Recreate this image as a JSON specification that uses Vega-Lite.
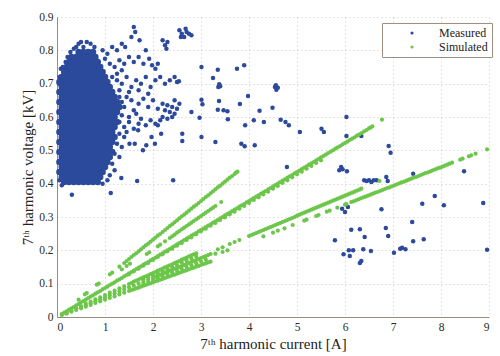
{
"$schema": "https://vega.github.io/schema/vega-lite/v6.json",
"width": 432, "height": 300,
"autosize": {"type": "none"},
"padding": {"left": 57, "top": 17, "right": 11, "bottom": 39},
"background": "white",
"config": {
  "view": {"stroke": null},
  "font": "Liberation Serif",
  "axis": {"domainColor": "#9a8a7c", "ticks": false, "labelPadding": 4, "gridColor": "#cfc6bd", "gridDash": [1, 3], "gridWidth": 1, "labelFont": "Liberation Serif", "labelFontSize": 11.5, "labelColor": "#2a2a2a", "titleFont": "Liberation Serif", "titleFontSize": 15, "titleFontWeight": "normal", "titleColor": "#222222"}
},
"datasets": {
"dense": [
{"x":0.15,"y":0.405},{"x":0.25,"y":0.405},{"x":0.35,"y":0.405},{"x":0.45,"y":0.405},{"x":0.55,"y":0.405},{"x":0.65,"y":0.405},{"x":0.75,"y":0.405},{"x":0.85,"y":0.405},
{"x":0.1,"y":0.42},{"x":0.2,"y":0.42},{"x":0.3,"y":0.42},{"x":0.4,"y":0.42},{"x":0.5,"y":0.42},{"x":0.6,"y":0.42},{"x":0.7,"y":0.42},{"x":0.8,"y":0.42},{"x":0.9,"y":0.42},
{"x":0.05,"y":0.435},{"x":0.15,"y":0.435},{"x":0.25,"y":0.435},{"x":0.35,"y":0.435},{"x":0.45,"y":0.435},{"x":0.55,"y":0.435},{"x":0.65,"y":0.435},{"x":0.75,"y":0.435},{"x":0.85,"y":0.435},{"x":0.95,"y":0.435},
{"x":0.1,"y":0.45},{"x":0.2,"y":0.45},{"x":0.3,"y":0.45},{"x":0.4,"y":0.45},{"x":0.5,"y":0.45},{"x":0.6,"y":0.45},{"x":0.7,"y":0.45},{"x":0.8,"y":0.45},{"x":0.9,"y":0.45},{"x":1.0,"y":0.45},
{"x":0.05,"y":0.465},{"x":0.15,"y":0.465},{"x":0.25,"y":0.465},{"x":0.35,"y":0.465},{"x":0.45,"y":0.465},{"x":0.55,"y":0.465},{"x":0.65,"y":0.465},{"x":0.75,"y":0.465},{"x":0.85,"y":0.465},{"x":0.95,"y":0.465},{"x":1.05,"y":0.465},
{"x":0.1,"y":0.48},{"x":0.2,"y":0.48},{"x":0.3,"y":0.48},{"x":0.4,"y":0.48},{"x":0.5,"y":0.48},{"x":0.6,"y":0.48},{"x":0.7,"y":0.48},{"x":0.8,"y":0.48},{"x":0.9,"y":0.48},{"x":1.0,"y":0.48},{"x":1.1,"y":0.48},
{"x":0.05,"y":0.495},{"x":0.15,"y":0.495},{"x":0.25,"y":0.495},{"x":0.35,"y":0.495},{"x":0.45,"y":0.495},{"x":0.55,"y":0.495},{"x":0.65,"y":0.495},{"x":0.75,"y":0.495},{"x":0.85,"y":0.495},{"x":0.95,"y":0.495},{"x":1.05,"y":0.495},{"x":1.15,"y":0.495},
{"x":0.1,"y":0.51},{"x":0.2,"y":0.51},{"x":0.3,"y":0.51},{"x":0.4,"y":0.51},{"x":0.5,"y":0.51},{"x":0.6,"y":0.51},{"x":0.7,"y":0.51},{"x":0.8,"y":0.51},{"x":0.9,"y":0.51},{"x":1.0,"y":0.51},{"x":1.1,"y":0.51},
{"x":0.05,"y":0.525},{"x":0.15,"y":0.525},{"x":0.25,"y":0.525},{"x":0.35,"y":0.525},{"x":0.45,"y":0.525},{"x":0.55,"y":0.525},{"x":0.65,"y":0.525},{"x":0.75,"y":0.525},{"x":0.85,"y":0.525},{"x":0.95,"y":0.525},{"x":1.05,"y":0.525},{"x":1.15,"y":0.525},
{"x":0.1,"y":0.54},{"x":0.2,"y":0.54},{"x":0.3,"y":0.54},{"x":0.4,"y":0.54},{"x":0.5,"y":0.54},{"x":0.6,"y":0.54},{"x":0.7,"y":0.54},{"x":0.8,"y":0.54},{"x":0.9,"y":0.54},{"x":1.0,"y":0.54},{"x":1.1,"y":0.54},{"x":1.2,"y":0.54},
{"x":0.05,"y":0.555},{"x":0.15,"y":0.555},{"x":0.25,"y":0.555},{"x":0.35,"y":0.555},{"x":0.45,"y":0.555},{"x":0.55,"y":0.555},{"x":0.65,"y":0.555},{"x":0.75,"y":0.555},{"x":0.85,"y":0.555},{"x":0.95,"y":0.555},{"x":1.05,"y":0.555},{"x":1.15,"y":0.555},
{"x":0.1,"y":0.57},{"x":0.2,"y":0.57},{"x":0.3,"y":0.57},{"x":0.4,"y":0.57},{"x":0.5,"y":0.57},{"x":0.6,"y":0.57},{"x":0.7,"y":0.57},{"x":0.8,"y":0.57},{"x":0.9,"y":0.57},{"x":1.0,"y":0.57},{"x":1.1,"y":0.57},{"x":1.2,"y":0.57},
{"x":0.05,"y":0.585},{"x":0.15,"y":0.585},{"x":0.25,"y":0.585},{"x":0.35,"y":0.585},{"x":0.45,"y":0.585},{"x":0.55,"y":0.585},{"x":0.65,"y":0.585},{"x":0.75,"y":0.585},{"x":0.85,"y":0.585},{"x":0.95,"y":0.585},{"x":1.05,"y":0.585},{"x":1.15,"y":0.585},{"x":1.25,"y":0.585},
{"x":0.1,"y":0.6},{"x":0.2,"y":0.6},{"x":0.3,"y":0.6},{"x":0.4,"y":0.6},{"x":0.5,"y":0.6},{"x":0.6,"y":0.6},{"x":0.7,"y":0.6},{"x":0.8,"y":0.6},{"x":0.9,"y":0.6},{"x":1.0,"y":0.6},{"x":1.1,"y":0.6},{"x":1.2,"y":0.6},
{"x":0.05,"y":0.615},{"x":0.15,"y":0.615},{"x":0.25,"y":0.615},{"x":0.35,"y":0.615},{"x":0.45,"y":0.615},{"x":0.55,"y":0.615},{"x":0.65,"y":0.615},{"x":0.75,"y":0.615},{"x":0.85,"y":0.615},{"x":0.95,"y":0.615},{"x":1.05,"y":0.615},{"x":1.15,"y":0.615},{"x":1.25,"y":0.615},
{"x":0.1,"y":0.63},{"x":0.2,"y":0.63},{"x":0.3,"y":0.63},{"x":0.4,"y":0.63},{"x":0.5,"y":0.63},{"x":0.6,"y":0.63},{"x":0.7,"y":0.63},{"x":0.8,"y":0.63},{"x":0.9,"y":0.63},{"x":1.0,"y":0.63},{"x":1.1,"y":0.63},{"x":1.2,"y":0.63},{"x":1.3,"y":0.63},
{"x":0.05,"y":0.645},{"x":0.15,"y":0.645},{"x":0.25,"y":0.645},{"x":0.35,"y":0.645},{"x":0.45,"y":0.645},{"x":0.55,"y":0.645},{"x":0.65,"y":0.645},{"x":0.75,"y":0.645},{"x":0.85,"y":0.645},{"x":0.95,"y":0.645},{"x":1.05,"y":0.645},{"x":1.15,"y":0.645},{"x":1.25,"y":0.645},
{"x":0.1,"y":0.66},{"x":0.2,"y":0.66},{"x":0.3,"y":0.66},{"x":0.4,"y":0.66},{"x":0.5,"y":0.66},{"x":0.6,"y":0.66},{"x":0.7,"y":0.66},{"x":0.8,"y":0.66},{"x":0.9,"y":0.66},{"x":1.0,"y":0.66},{"x":1.1,"y":0.66},{"x":1.2,"y":0.66},
{"x":0.05,"y":0.675},{"x":0.15,"y":0.675},{"x":0.25,"y":0.675},{"x":0.35,"y":0.675},{"x":0.45,"y":0.675},{"x":0.55,"y":0.675},{"x":0.65,"y":0.675},{"x":0.75,"y":0.675},{"x":0.85,"y":0.675},{"x":0.95,"y":0.675},{"x":1.05,"y":0.675},{"x":1.15,"y":0.675},
{"x":0.1,"y":0.69},{"x":0.2,"y":0.69},{"x":0.3,"y":0.69},{"x":0.4,"y":0.69},{"x":0.5,"y":0.69},{"x":0.6,"y":0.69},{"x":0.7,"y":0.69},{"x":0.8,"y":0.69},{"x":0.9,"y":0.69},{"x":1.0,"y":0.69},{"x":1.1,"y":0.69},
{"x":0.05,"y":0.705},{"x":0.15,"y":0.705},{"x":0.25,"y":0.705},{"x":0.35,"y":0.705},{"x":0.45,"y":0.705},{"x":0.55,"y":0.705},{"x":0.65,"y":0.705},{"x":0.75,"y":0.705},{"x":0.85,"y":0.705},{"x":0.95,"y":0.705},{"x":1.05,"y":0.705},
{"x":0.1,"y":0.72},{"x":0.2,"y":0.72},{"x":0.3,"y":0.72},{"x":0.4,"y":0.72},{"x":0.5,"y":0.72},{"x":0.6,"y":0.72},{"x":0.7,"y":0.72},{"x":0.8,"y":0.72},{"x":0.9,"y":0.72},{"x":1.0,"y":0.72},
{"x":0.15,"y":0.735},{"x":0.25,"y":0.735},{"x":0.35,"y":0.735},{"x":0.45,"y":0.735},{"x":0.55,"y":0.735},{"x":0.65,"y":0.735},{"x":0.75,"y":0.735},{"x":0.85,"y":0.735},{"x":0.95,"y":0.735},
{"x":0.2,"y":0.75},{"x":0.3,"y":0.75},{"x":0.4,"y":0.75},{"x":0.5,"y":0.75},{"x":0.6,"y":0.75},{"x":0.7,"y":0.75},{"x":0.8,"y":0.75},{"x":0.9,"y":0.75},
{"x":0.25,"y":0.765},{"x":0.35,"y":0.765},{"x":0.45,"y":0.765},{"x":0.55,"y":0.765},{"x":0.65,"y":0.765},{"x":0.75,"y":0.765},{"x":0.85,"y":0.765},
{"x":0.3,"y":0.78},{"x":0.4,"y":0.78},{"x":0.5,"y":0.78},{"x":0.6,"y":0.78},{"x":0.7,"y":0.78},{"x":0.8,"y":0.78},
{"x":0.45,"y":0.795},{"x":0.55,"y":0.795},{"x":0.65,"y":0.795},{"x":0.75,"y":0.795}
],
"meas": [
{"x":0.55,"y":0.81},{"x":0.62,"y":0.825},{"x":0.7,"y":0.82},{"x":0.78,"y":0.81},{"x":0.95,"y":0.8},{"x":1.05,"y":0.79},{"x":1.15,"y":0.81},{"x":1.25,"y":0.8},{"x":1.35,"y":0.82},{"x":1.42,"y":0.81},{"x":1.55,"y":0.84},{"x":1.6,"y":0.87},{"x":1.63,"y":0.855},{"x":1.72,"y":0.83},{"x":1.85,"y":0.8},{"x":2.2,"y":0.83},{"x":2.25,"y":0.815},{"x":2.3,"y":0.825},{"x":2.28,"y":0.805},
{"x":2.55,"y":0.86},{"x":2.6,"y":0.85},{"x":2.65,"y":0.84},{"x":2.7,"y":0.855},{"x":2.75,"y":0.85},{"x":2.8,"y":0.845},{"x":2.58,"y":0.84},{"x":2.68,"y":0.865},
{"x":1.0,"y":0.775},{"x":1.1,"y":0.76},{"x":1.2,"y":0.75},{"x":1.3,"y":0.77},{"x":1.4,"y":0.76},{"x":1.5,"y":0.78},{"x":1.6,"y":0.765},{"x":1.7,"y":0.78},{"x":1.8,"y":0.76},{"x":1.92,"y":0.775},{"x":1.98,"y":0.755},{"x":2.05,"y":0.745},{"x":2.1,"y":0.76},{"x":1.25,"y":0.73},{"x":1.35,"y":0.74},
{"x":1.15,"y":0.72},{"x":1.25,"y":0.71},{"x":1.35,"y":0.7},{"x":1.45,"y":0.72},{"x":1.55,"y":0.69},{"x":1.65,"y":0.71},{"x":1.75,"y":0.7},{"x":1.85,"y":0.72},{"x":1.95,"y":0.69},{"x":2.05,"y":0.71},{"x":2.15,"y":0.72},{"x":2.25,"y":0.7},{"x":2.35,"y":0.71},{"x":2.45,"y":0.72},{"x":2.5,"y":0.705},{"x":1.3,"y":0.68},{"x":1.5,"y":0.675},{"x":1.7,"y":0.68},{"x":1.9,"y":0.67},
{"x":1.3,"y":0.66},{"x":1.35,"y":0.645},{"x":1.4,"y":0.63},{"x":1.45,"y":0.66},{"x":1.55,"y":0.65},{"x":1.6,"y":0.62},{"x":1.7,"y":0.64},{"x":1.8,"y":0.655},{"x":1.9,"y":0.63},{"x":2.0,"y":0.65},{"x":2.1,"y":0.625},{"x":2.2,"y":0.64},{"x":2.25,"y":0.62},{"x":2.3,"y":0.635},{"x":2.35,"y":0.615},{"x":2.4,"y":0.63},{"x":2.45,"y":0.61},{"x":2.5,"y":0.625},{"x":2.2,"y":0.6},{"x":2.3,"y":0.595},{"x":2.4,"y":0.6},{"x":1.35,"y":0.605},{"x":1.5,"y":0.6},{"x":1.65,"y":0.61},{"x":1.75,"y":0.595},{"x":2.45,"y":0.65},{"x":2.55,"y":0.64},
{"x":1.3,"y":0.585},{"x":1.4,"y":0.57},{"x":1.5,"y":0.585},{"x":1.6,"y":0.565},{"x":1.7,"y":0.58},{"x":1.85,"y":0.575},{"x":1.95,"y":0.59},{"x":2.05,"y":0.58},{"x":2.1,"y":0.575},{"x":2.15,"y":0.59},{"x":1.3,"y":0.55},{"x":1.4,"y":0.54},{"x":1.45,"y":0.555},{"x":1.69,"y":0.56},{"x":1.97,"y":0.54},{"x":2.17,"y":0.55},{"x":1.25,"y":0.52},{"x":1.35,"y":0.51},{"x":1.51,"y":0.52},{"x":1.62,"y":0.52},{"x":1.79,"y":0.5},{"x":1.86,"y":0.515},{"x":2.04,"y":0.52},{"x":1.2,"y":0.49},{"x":1.3,"y":0.48},
{"x":1.15,"y":0.46},{"x":1.2,"y":0.44},{"x":1.1,"y":0.425},{"x":1.05,"y":0.41},{"x":0.95,"y":0.4},{"x":0.1,"y":0.395},{"x":0.05,"y":0.41},{"x":1.34,"y":0.417},{"x":1.67,"y":0.408},{"x":2.42,"y":0.41},{"x":0.31,"y":0.367},{"x":1.12,"y":0.372},
{"x":0.05,"y":0.72},{"x":0.04,"y":0.7},{"x":0.08,"y":0.745},{"x":0.12,"y":0.75},{"x":0.18,"y":0.765},{"x":0.22,"y":0.78},{"x":0.28,"y":0.795},{"x":0.35,"y":0.805},{"x":0.4,"y":0.81},{"x":0.45,"y":0.82},{"x":0.5,"y":0.825},
{"x":2.54,"y":0.707},{"x":3.01,"y":0.75},{"x":3.35,"y":0.742},{"x":3.75,"y":0.745},{"x":3.9,"y":0.755},{"x":3.25,"y":0.717},{"x":3.36,"y":0.69},{"x":3.38,"y":0.698},{"x":3.4,"y":0.692},{"x":3.98,"y":0.663},{"x":3.01,"y":0.652},{"x":3.03,"y":0.638},{"x":3.375,"y":0.648},{"x":3.81,"y":0.639},{"x":2.8,"y":0.615},{"x":3.35,"y":0.622},{"x":3.47,"y":0.62},{"x":3.55,"y":0.617},{"x":2.97,"y":0.598},{"x":3.56,"y":0.593},{"x":4.22,"y":0.619},{"x":4.49,"y":0.628},{"x":4.54,"y":0.69},{"x":4.57,"y":0.682},{"x":4.56,"y":0.695},{"x":4.6,"y":0.688},{"x":3.92,"y":0.575},{"x":4.1,"y":0.59},{"x":4.31,"y":0.585},{"x":4.66,"y":0.592},{"x":4.76,"y":0.585},{"x":4.83,"y":0.575},{"x":2.61,"y":0.55},{"x":2.61,"y":0.528},{"x":3.01,"y":0.54},{"x":3.3,"y":0.525},{"x":3.84,"y":0.52},{"x":3.91,"y":0.512},{"x":4.12,"y":0.515},{"x":5.06,"y":0.555},{"x":4.79,"y":0.45},{"x":5.51,"y":0.565},{"x":5.56,"y":0.555},{"x":6.03,"y":0.6},{"x":6.03,"y":0.543},{"x":6.34,"y":0.543},{"x":6.91,"y":0.513},{"x":6.95,"y":0.493},{"x":5.88,"y":0.44},{"x":5.92,"y":0.45},{"x":5.95,"y":0.443},{"x":6.04,"y":0.437},{"x":7.42,"y":0.43},{"x":8.48,"y":0.437},{"x":6.4,"y":0.41},{"x":6.45,"y":0.408},{"x":6.5,"y":0.41},{"x":6.55,"y":0.405},{"x":6.6,"y":0.41},{"x":6.66,"y":0.41},{"x":6.86,"y":0.42},{"x":6.89,"y":0.408},{"x":7.87,"y":0.363},{"x":7.61,"y":0.34},{"x":8.06,"y":0.335},{"x":8.88,"y":0.342},{"x":6.76,"y":0.323},{"x":5.94,"y":0.325},{"x":6.0,"y":0.315},{"x":6.06,"y":0.33},{"x":7.4,"y":0.285},{"x":6.13,"y":0.262},{"x":6.31,"y":0.263},{"x":6.85,"y":0.267},{"x":6.9,"y":0.243},{"x":6.41,"y":0.24},{"x":5.79,"y":0.23},{"x":7.42,"y":0.227},{"x":7.64,"y":0.233},{"x":6.08,"y":0.2},{"x":6.17,"y":0.2},{"x":6.38,"y":0.203},{"x":6.54,"y":0.198},{"x":7.15,"y":0.205},{"x":7.19,"y":0.208},{"x":7.26,"y":0.203},{"x":7.02,"y":0.193},{"x":5.97,"y":0.188},{"x":6.1,"y":0.183},{"x":6.34,"y":0.168},{"x":6.31,"y":0.162},{"x":8.96,"y":0.202}
],
"sim": [
{"x":0.1,"y":0.009},{"x":0.2,"y":0.017},{"x":0.3,"y":0.026},{"x":0.4,"y":0.035},{"x":0.5,"y":0.044},{"x":0.6,"y":0.052},{"x":0.7,"y":0.061},{"x":0.8,"y":0.07},{"x":0.9,"y":0.078},{"x":1.0,"y":0.087},{"x":1.1,"y":0.096},{"x":1.2,"y":0.104},{"x":1.3,"y":0.113},{"x":1.4,"y":0.122},{"x":1.5,"y":0.131},{"x":1.6,"y":0.139},{"x":1.7,"y":0.148},{"x":1.8,"y":0.157},{"x":1.9,"y":0.165},{"x":2.0,"y":0.174},{"x":2.1,"y":0.183},{"x":2.2,"y":0.191},{"x":2.3,"y":0.2},{"x":2.4,"y":0.209},{"x":2.5,"y":0.218},{"x":2.6,"y":0.226},{"x":2.7,"y":0.235},{"x":2.8,"y":0.244},{"x":2.9,"y":0.252},{"x":3.0,"y":0.261},{"x":3.1,"y":0.27},{"x":3.2,"y":0.278},{"x":3.3,"y":0.287},{"x":3.4,"y":0.296},{"x":3.5,"y":0.305},{"x":3.6,"y":0.313},{"x":3.7,"y":0.322},{"x":3.8,"y":0.331},{"x":3.9,"y":0.339},{"x":4.0,"y":0.348},{"x":4.1,"y":0.357},{"x":4.2,"y":0.365},{"x":4.3,"y":0.374},{"x":4.4,"y":0.383},{"x":4.5,"y":0.392},{"x":4.6,"y":0.4},{"x":4.7,"y":0.409},{"x":4.8,"y":0.418},{"x":4.9,"y":0.426},{"x":5.0,"y":0.435},{"x":5.1,"y":0.444},{"x":5.2,"y":0.452},{"x":5.3,"y":0.461},{"x":5.4,"y":0.47},{"x":5.5,"y":0.479},{"x":5.6,"y":0.487},{"x":5.7,"y":0.496},{"x":5.8,"y":0.505},{"x":5.9,"y":0.513},{"x":6.0,"y":0.522},{"x":6.1,"y":0.531},{"x":6.2,"y":0.539},{"x":6.3,"y":0.548},{"x":6.4,"y":0.557},{"x":6.5,"y":0.566},{"x":6.57,"y":0.572},{"x":6.77,"y":0.592},
{"x":0.15,"y":0.013},{"x":0.25,"y":0.022},{"x":0.35,"y":0.03},{"x":0.45,"y":0.039},{"x":0.55,"y":0.048},{"x":0.65,"y":0.057},{"x":0.75,"y":0.065},{"x":0.85,"y":0.074},{"x":0.95,"y":0.083},{"x":1.05,"y":0.091},{"x":1.15,"y":0.1},{"x":1.25,"y":0.109},{"x":1.35,"y":0.117},{"x":1.45,"y":0.126},{"x":1.55,"y":0.135},{"x":1.65,"y":0.144},{"x":1.75,"y":0.152},{"x":1.85,"y":0.161},{"x":1.95,"y":0.17},{"x":2.05,"y":0.178},{"x":2.15,"y":0.187},{"x":2.25,"y":0.196},{"x":2.35,"y":0.204},{"x":2.45,"y":0.213},{"x":2.55,"y":0.222},{"x":2.65,"y":0.231},{"x":2.75,"y":0.239},{"x":2.85,"y":0.248},{"x":2.95,"y":0.257},{"x":3.05,"y":0.265},{"x":3.15,"y":0.274},{"x":3.25,"y":0.283},{"x":3.35,"y":0.291},{"x":3.45,"y":0.3},{"x":3.55,"y":0.309},{"x":3.65,"y":0.318},{"x":3.75,"y":0.326},{"x":3.85,"y":0.335},{"x":3.95,"y":0.344},{"x":4.05,"y":0.352},{"x":4.15,"y":0.361},{"x":4.25,"y":0.37},{"x":4.35,"y":0.378},{"x":4.45,"y":0.387},{"x":4.55,"y":0.396},{"x":4.65,"y":0.405},{"x":4.75,"y":0.413},{"x":4.85,"y":0.422},{"x":4.95,"y":0.431},{"x":5.05,"y":0.439},{"x":5.15,"y":0.448},{"x":5.25,"y":0.457},{"x":5.35,"y":0.465},{"x":5.45,"y":0.474},{"x":5.55,"y":0.483},{"x":5.65,"y":0.492},{"x":5.75,"y":0.5},{"x":5.85,"y":0.509},{"x":5.95,"y":0.518},{"x":6.05,"y":0.526},{"x":6.15,"y":0.535},{"x":6.25,"y":0.544},{"x":6.35,"y":0.552},{"x":6.45,"y":0.561},{"x":6.53,"y":0.568},
{"x":1.5,"y":0.128},{"x":1.6,"y":0.137},{"x":1.7,"y":0.145},{"x":1.8,"y":0.154},{"x":1.9,"y":0.162},{"x":2.0,"y":0.171},{"x":2.1,"y":0.18},{"x":2.2,"y":0.188},{"x":2.3,"y":0.197},{"x":2.4,"y":0.205},{"x":2.5,"y":0.214},{"x":2.6,"y":0.222},{"x":2.7,"y":0.231},{"x":2.8,"y":0.239},{"x":2.9,"y":0.248},{"x":3.0,"y":0.257},{"x":3.1,"y":0.265},{"x":3.2,"y":0.274},{"x":3.3,"y":0.282},{"x":3.4,"y":0.291},{"x":3.5,"y":0.299},{"x":3.6,"y":0.308},{"x":3.7,"y":0.316},{"x":3.8,"y":0.325},{"x":3.9,"y":0.333},{"x":4.0,"y":0.342},{"x":4.1,"y":0.351},{"x":4.2,"y":0.359},{"x":4.3,"y":0.368},{"x":4.4,"y":0.376},{"x":4.5,"y":0.385},{"x":4.6,"y":0.393},{"x":4.7,"y":0.402},{"x":4.8,"y":0.41},{"x":4.9,"y":0.419},{"x":5.0,"y":0.428},{"x":5.1,"y":0.436},{"x":5.2,"y":0.445},{"x":5.3,"y":0.453},{"x":5.4,"y":0.462},{"x":5.5,"y":0.47},
{"x":0.45,"y":0.052},{"x":0.58,"y":0.068},{"x":0.62,"y":0.072},{"x":0.83,"y":0.097},{"x":0.87,"y":0.1},{"x":1.1,"y":0.128},{"x":1.15,"y":0.133},{"x":1.3,"y":0.151},{"x":1.4,"y":0.162},{"x":1.5,"y":0.174},{"x":1.6,"y":0.186},{"x":1.7,"y":0.197},{"x":1.8,"y":0.209},{"x":1.9,"y":0.22},{"x":2.0,"y":0.232},{"x":2.1,"y":0.244},{"x":2.2,"y":0.255},{"x":2.3,"y":0.267},{"x":2.4,"y":0.278},{"x":2.5,"y":0.29},{"x":2.6,"y":0.302},{"x":2.7,"y":0.313},{"x":2.8,"y":0.325},{"x":2.9,"y":0.336},{"x":3.0,"y":0.348},{"x":3.1,"y":0.36},{"x":3.2,"y":0.371},{"x":3.3,"y":0.383},{"x":3.4,"y":0.394},{"x":3.5,"y":0.406},{"x":3.6,"y":0.418},{"x":3.7,"y":0.429},{"x":3.76,"y":0.436},
{"x":1.45,"y":0.168},{"x":1.55,"y":0.18},{"x":1.65,"y":0.191},{"x":1.75,"y":0.203},{"x":1.85,"y":0.215},{"x":1.95,"y":0.226},{"x":2.05,"y":0.238},{"x":2.15,"y":0.249},{"x":2.25,"y":0.261},{"x":2.35,"y":0.273},{"x":2.45,"y":0.284},{"x":2.55,"y":0.296},{"x":2.65,"y":0.307},{"x":2.75,"y":0.319},{"x":2.85,"y":0.331},{"x":2.95,"y":0.342},{"x":3.05,"y":0.354},{"x":3.15,"y":0.365},{"x":3.25,"y":0.377},{"x":3.35,"y":0.389},{"x":3.45,"y":0.4},{"x":3.55,"y":0.412},{"x":3.65,"y":0.423},{"x":3.73,"y":0.433},
{"x":1.35,"y":0.143},{"x":1.45,"y":0.153},{"x":1.52,"y":0.16},{"x":1.87,"y":0.189},{"x":1.92,"y":0.194},{"x":2.1,"y":0.212},{"x":2.15,"y":0.217},{"x":2.25,"y":0.227},{"x":2.35,"y":0.237},{"x":2.45,"y":0.247},{"x":2.55,"y":0.258},{"x":2.65,"y":0.268},{"x":2.75,"y":0.278},{"x":2.85,"y":0.288},{"x":2.95,"y":0.298},{"x":3.05,"y":0.308},{"x":3.15,"y":0.318},{"x":3.25,"y":0.328},{"x":3.3,"y":0.333},{"x":3.42,"y":0.345},
{"x":2.4,"y":0.242},{"x":2.5,"y":0.253},{"x":2.6,"y":0.263},{"x":2.7,"y":0.273},{"x":2.8,"y":0.283},{"x":2.9,"y":0.293},{"x":3.0,"y":0.303},{"x":3.1,"y":0.313},{"x":3.2,"y":0.323},
{"x":0.1,"y":0.007},{"x":0.2,"y":0.013},{"x":0.3,"y":0.02},{"x":0.4,"y":0.026},{"x":0.5,"y":0.033},{"x":0.6,"y":0.04},{"x":0.7,"y":0.046},{"x":0.8,"y":0.053},{"x":0.9,"y":0.059},{"x":1.0,"y":0.066},{"x":1.1,"y":0.073},{"x":1.2,"y":0.079},{"x":1.3,"y":0.086},{"x":1.4,"y":0.092},{"x":1.5,"y":0.099},{"x":1.6,"y":0.106},{"x":1.7,"y":0.112},{"x":1.8,"y":0.119},{"x":1.9,"y":0.125},{"x":2.0,"y":0.132},{"x":2.1,"y":0.139},{"x":2.2,"y":0.145},{"x":2.3,"y":0.152},{"x":2.4,"y":0.158},{"x":2.5,"y":0.165},{"x":2.6,"y":0.172},{"x":2.7,"y":0.178},{"x":2.8,"y":0.185},{"x":2.9,"y":0.191},
{"x":1.55,"y":0.102},{"x":1.65,"y":0.109},{"x":1.75,"y":0.116},{"x":1.85,"y":0.122},{"x":1.95,"y":0.129},{"x":2.05,"y":0.135},{"x":2.15,"y":0.142},{"x":2.25,"y":0.149},{"x":2.35,"y":0.155},{"x":2.45,"y":0.162},{"x":2.55,"y":0.168},{"x":2.65,"y":0.175},{"x":2.75,"y":0.182},{"x":2.85,"y":0.188},
{"x":1.8,"y":0.113},{"x":1.9,"y":0.119},{"x":2.0,"y":0.125},{"x":2.1,"y":0.131},{"x":2.2,"y":0.138},{"x":2.3,"y":0.144},{"x":2.4,"y":0.15},{"x":2.5,"y":0.156},{"x":2.6,"y":0.163},{"x":2.7,"y":0.169},{"x":2.8,"y":0.175},{"x":2.9,"y":0.181},
{"x":0.1,"y":0.006},{"x":0.2,"y":0.012},{"x":0.3,"y":0.018},{"x":0.4,"y":0.024},{"x":0.5,"y":0.03},{"x":0.6,"y":0.035},{"x":0.7,"y":0.041},{"x":0.8,"y":0.047},{"x":0.9,"y":0.053},{"x":1.0,"y":0.059},{"x":1.1,"y":0.065},{"x":1.2,"y":0.071},{"x":1.3,"y":0.077},{"x":1.4,"y":0.083},{"x":1.5,"y":0.089},{"x":1.6,"y":0.094},{"x":1.7,"y":0.1},{"x":1.8,"y":0.106},{"x":1.9,"y":0.112},{"x":2.0,"y":0.118},{"x":2.1,"y":0.124},{"x":2.2,"y":0.13},{"x":2.3,"y":0.136},{"x":2.4,"y":0.142},{"x":2.5,"y":0.148},{"x":2.6,"y":0.153},{"x":2.7,"y":0.159},{"x":2.8,"y":0.165},{"x":2.9,"y":0.171},{"x":3.0,"y":0.177},{"x":3.1,"y":0.183},{"x":3.2,"y":0.189},
{"x":2.05,"y":0.121},{"x":2.15,"y":0.127},{"x":2.25,"y":0.133},{"x":2.35,"y":0.139},{"x":2.45,"y":0.145},{"x":2.55,"y":0.15},{"x":2.65,"y":0.156},{"x":2.75,"y":0.162},{"x":2.85,"y":0.168},{"x":2.95,"y":0.174},{"x":3.05,"y":0.18},{"x":3.15,"y":0.186},
{"x":1.8,"y":0.1},{"x":1.9,"y":0.105},{"x":2.0,"y":0.111},{"x":2.1,"y":0.117},{"x":2.2,"y":0.122},{"x":2.3,"y":0.128},{"x":2.4,"y":0.133},{"x":2.5,"y":0.139},{"x":2.6,"y":0.144},{"x":2.7,"y":0.15},{"x":2.8,"y":0.155},{"x":2.9,"y":0.161},{"x":3.0,"y":0.167},{"x":3.1,"y":0.172},
{"x":0.2,"y":0.01},{"x":0.3,"y":0.016},{"x":0.4,"y":0.021},{"x":0.5,"y":0.026},{"x":0.6,"y":0.031},{"x":0.7,"y":0.036},{"x":0.8,"y":0.042},{"x":0.9,"y":0.047},{"x":1.0,"y":0.052},{"x":1.1,"y":0.057},{"x":1.2,"y":0.062},{"x":1.3,"y":0.068},{"x":1.4,"y":0.073},{"x":1.5,"y":0.078},{"x":1.6,"y":0.083},{"x":1.7,"y":0.088},{"x":1.8,"y":0.094},{"x":1.9,"y":0.099},{"x":2.0,"y":0.104},{"x":2.1,"y":0.109},{"x":2.2,"y":0.114},{"x":2.3,"y":0.12},{"x":2.4,"y":0.125},{"x":2.5,"y":0.13},{"x":2.6,"y":0.135},{"x":2.7,"y":0.14},{"x":2.8,"y":0.146},{"x":2.9,"y":0.151},{"x":3.0,"y":0.156},{"x":3.1,"y":0.161},{"x":3.2,"y":0.166},
{"x":1.55,"y":0.081},{"x":1.65,"y":0.086},{"x":1.75,"y":0.091},{"x":1.85,"y":0.096},{"x":1.95,"y":0.101},{"x":2.05,"y":0.107},{"x":2.15,"y":0.112},{"x":2.25,"y":0.117},{"x":2.35,"y":0.122},{"x":2.45,"y":0.127},{"x":2.55,"y":0.133},{"x":2.65,"y":0.138},{"x":2.75,"y":0.143},{"x":2.85,"y":0.148},{"x":2.95,"y":0.153},{"x":3.05,"y":0.159},{"x":3.15,"y":0.164},
{"x":3.35,"y":0.203},{"x":3.45,"y":0.209},{"x":3.6,"y":0.219},{"x":3.7,"y":0.225},{"x":3.8,"y":0.231},{"x":4.0,"y":0.243},{"x":4.1,"y":0.249},{"x":4.2,"y":0.255},{"x":4.3,"y":0.261},{"x":4.4,"y":0.267},{"x":4.5,"y":0.273},{"x":4.6,"y":0.279},{"x":4.7,"y":0.285},{"x":4.8,"y":0.291},{"x":4.9,"y":0.297},{"x":5.0,"y":0.304},{"x":5.1,"y":0.31},{"x":5.2,"y":0.316},{"x":5.3,"y":0.322},{"x":5.4,"y":0.328},{"x":5.5,"y":0.334},{"x":5.6,"y":0.34},{"x":5.7,"y":0.346},{"x":5.8,"y":0.352},{"x":5.9,"y":0.358},{"x":6.0,"y":0.364},{"x":6.1,"y":0.37},{"x":6.2,"y":0.376},{"x":6.3,"y":0.382},{"x":6.34,"y":0.385},{"x":6.72,"y":0.408},
{"x":4.05,"y":0.246},{"x":4.15,"y":0.252},{"x":4.25,"y":0.258},{"x":4.35,"y":0.264},{"x":4.45,"y":0.27},{"x":4.55,"y":0.276},{"x":4.65,"y":0.282},{"x":4.75,"y":0.288},{"x":4.85,"y":0.294},{"x":4.95,"y":0.3},{"x":5.05,"y":0.307},{"x":5.15,"y":0.313},{"x":5.25,"y":0.319},{"x":5.35,"y":0.325},{"x":5.45,"y":0.331},{"x":5.55,"y":0.337},{"x":5.65,"y":0.343},{"x":5.75,"y":0.349},{"x":5.85,"y":0.355},{"x":5.95,"y":0.361},{"x":6.05,"y":0.367},{"x":6.15,"y":0.373},{"x":6.25,"y":0.379},
{"x":3.3,"y":0.19},{"x":3.45,"y":0.195},{"x":3.55,"y":0.2},{"x":4.3,"y":0.242},{"x":4.5,"y":0.253},{"x":4.6,"y":0.259},{"x":4.74,"y":0.266},{"x":4.91,"y":0.276},{"x":5.15,"y":0.289},{"x":5.2,"y":0.292},{"x":5.4,"y":0.303},{"x":5.45,"y":0.306},{"x":5.62,"y":0.316},{"x":5.68,"y":0.319},{"x":5.84,"y":0.328},{"x":6.0,"y":0.337},{"x":6.03,"y":0.339},{"x":6.13,"y":0.345},{"x":6.23,"y":0.35},{"x":6.33,"y":0.356},{"x":6.43,"y":0.361},{"x":6.53,"y":0.367},{"x":6.63,"y":0.373},{"x":6.73,"y":0.378},{"x":6.83,"y":0.384},{"x":6.93,"y":0.389},{"x":7.03,"y":0.395},{"x":7.13,"y":0.401},{"x":7.23,"y":0.406},{"x":7.33,"y":0.412},{"x":7.43,"y":0.418},{"x":7.53,"y":0.423},{"x":7.63,"y":0.429},{"x":7.73,"y":0.434},{"x":7.83,"y":0.44},{"x":7.93,"y":0.446},{"x":8.03,"y":0.451},{"x":8.13,"y":0.457},{"x":8.23,"y":0.463},{"x":8.4,"y":0.472},{"x":8.45,"y":0.475},{"x":8.58,"y":0.482},{"x":8.63,"y":0.485},{"x":8.72,"y":0.49},{"x":8.96,"y":0.503},
{"x":6.18,"y":0.347},{"x":6.28,"y":0.353},{"x":6.38,"y":0.359},{"x":6.48,"y":0.364},{"x":6.58,"y":0.37},{"x":6.68,"y":0.375},{"x":6.78,"y":0.381},{"x":6.88,"y":0.387},{"x":6.98,"y":0.392},{"x":7.08,"y":0.398},{"x":7.18,"y":0.404},{"x":7.28,"y":0.409},{"x":7.38,"y":0.415},{"x":7.48,"y":0.42},{"x":7.58,"y":0.426},{"x":7.68,"y":0.432},{"x":7.78,"y":0.437},{"x":7.88,"y":0.443},{"x":7.98,"y":0.448},{"x":8.08,"y":0.454},{"x":8.18,"y":0.46}
]
},
"encoding": {
  "x": {"field": "x", "type": "quantitative", "scale": {"domain": [0, 9], "nice": false}, "axis": {"values": [0,1,2,3,4,5,6,7,8,9], "format": "d", "labelFont": "Liberation Serif", "title": "7ᵗʰ harmonic current [A]", "titlePadding": 4}},
  "y": {"field": "y", "type": "quantitative", "scale": {"domain": [0, 0.9], "nice": false}, "axis": {"values": [0,0.1,0.2,0.3,0.4,0.5,0.6,0.7,0.8,0.9], "format": ".1~f", "labelFont": "Liberation Serif", "title": "7ᵗʰ harmonic voltage [kV]", "titlePadding": 3}}
},
"layer": [
  {"data": {"name": "dense"}, "mark": {"type": "circle", "size": 42, "opacity": 1, "strokeWidth": 0},
   "encoding": {"color": {"datum": "Measured", "type": "nominal", "scale": {"domain": ["Measured", "Simulated"], "range": ["#2c4a9c", "#6cc64a"]}, "legend": {"title": null, "orient": "none", "legendX": 325, "legendY": 6, "direction": "vertical", "strokeColor": "#a08f80", "fillColor": "white", "padding": 4, "symbolSize": 10, "symbolType": "circle", "symbolOffset": 20, "labelOffset": 21, "labelFont": "Liberation Serif", "labelFontSize": 12, "labelColor": "#222222", "rowPadding": 2}}}},
  {"data": {"name": "meas"}, "mark": {"type": "circle", "size": 20, "opacity": 1, "strokeWidth": 0},
   "encoding": {"color": {"datum": "Measured", "type": "nominal"}}},
  {"data": {"name": "sim"}, "mark": {"type": "circle", "size": 17, "opacity": 1, "strokeWidth": 0},
   "encoding": {"color": {"datum": "Simulated", "type": "nominal"}}}
]
}
